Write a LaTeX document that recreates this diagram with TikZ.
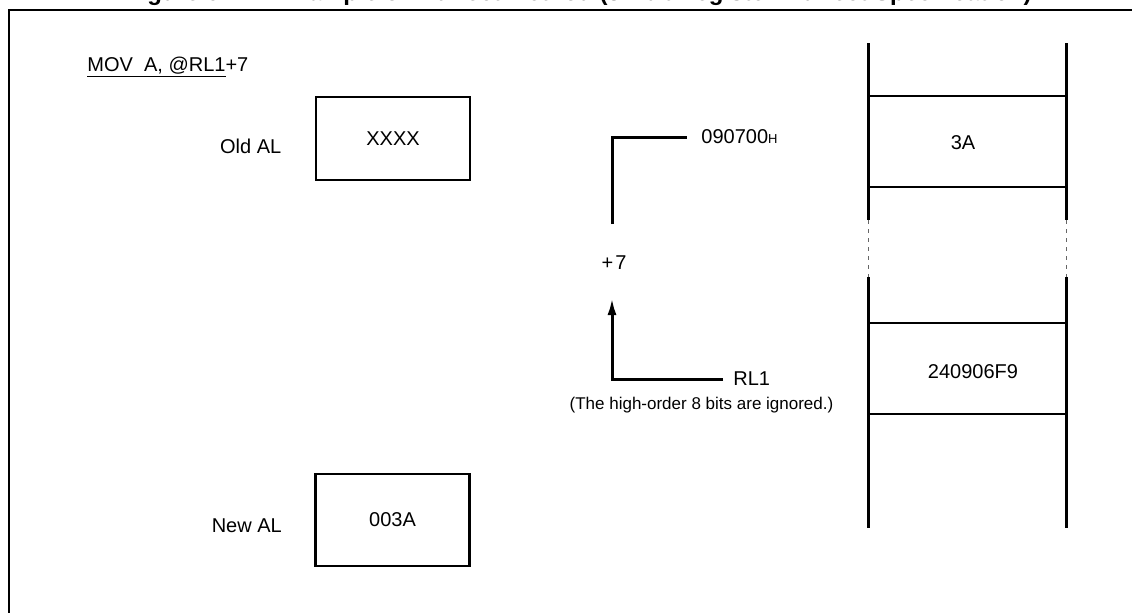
\documentclass[tikz,border=0pt]{standalone}
\usepackage{fontspec}
\setmainfont{Liberation Sans}
\usetikzlibrary{arrows.meta, positioning}

\begin{document}
\begin{tikzpicture}[
    x=0.5pt, y=-0.5pt,
    font=\fontsize{10}{12}\selectfont,
    lbl/.style={inner sep=0pt},
    regbox/.style={rectangle, draw, line width=1.3pt, minimum width=77pt, inner sep=0pt},
    link/.style={line width=1.5pt},
    arrow/.style={link, -{Latex[length=8.5pt, width=4.5pt]}},
    cellrule/.style={line width=1.2pt},
    wall/.style={line width=1.5pt},
    gap/.style={line width=0.5pt, black!60, dash pattern=on 2pt off 2.5pt},
    frame/.style={line width=1.1pt}
]
\useasboundingbox (0,0) rectangle (1132,612);

% Caption (cut off at the top)
\node[lbl, anchor=base east, font=\fontsize{12}{14}\selectfont\bfseries] (caption) at (1032,0) {Figure 6.2-11 Example of Indirect Method (32-bit Register Indirect Specification)};

% Frame
\draw[frame] (1140,10) -- (9,10) -- (9,620);

% Instruction
\node[lbl, anchor=base west] (instr) at (87,71) {\underline{MOV\ \ A, @RL1}+7};

% Accumulator
\node[regbox, minimum height=41.5pt] (oldal) at (393,138.5) {XXXX};
\node[lbl, left=16.5pt of oldal, yshift=-4pt] (oldlbl) {Old AL};
\node[regbox, minimum height=46pt] (newal) at (392.5,520) {003A};
\node[lbl, left=16pt of newal, yshift=-3pt] (newlbl) {New AL};

% Address calculation
\node[lbl, anchor=west] (addr) at (701,137) {090700{\fontsize{6.5}{7}\selectfont H}};
\node[lbl] (disp) at (614,263) {+\kern1pt7};
\node[lbl, anchor=west] (rl1) at (733,379) {RL1};
\node[lbl, font=\fontsize{8.5}{10}\selectfont] (note) at (701.5,405) {(The high-order 8 bits are ignored.)};

\coordinate (sumtop) at (612,224);
\coordinate (dispin) at (612,298);

\draw[link] (sumtop) |- ([xshift=-7pt]addr.west);
\draw[arrow] ([xshift=-5pt]rl1.west) -| (dispin);

% Memory
\foreach \x in {868,1066} {
  \draw[wall] (\x,43) -- (\x,220);
  \draw[gap] (\x,220) -- (\x,277);
  \draw[wall] (\x,277) -- (\x,528);
}
\foreach \y in {96,187,323,414}
  \draw[cellrule] (868,\y) -- (1066,\y);

\node (cellA) at (963,143) {3A};
\node (cellB) at (973,372) {240906F9};

\end{tikzpicture}
\end{document}
